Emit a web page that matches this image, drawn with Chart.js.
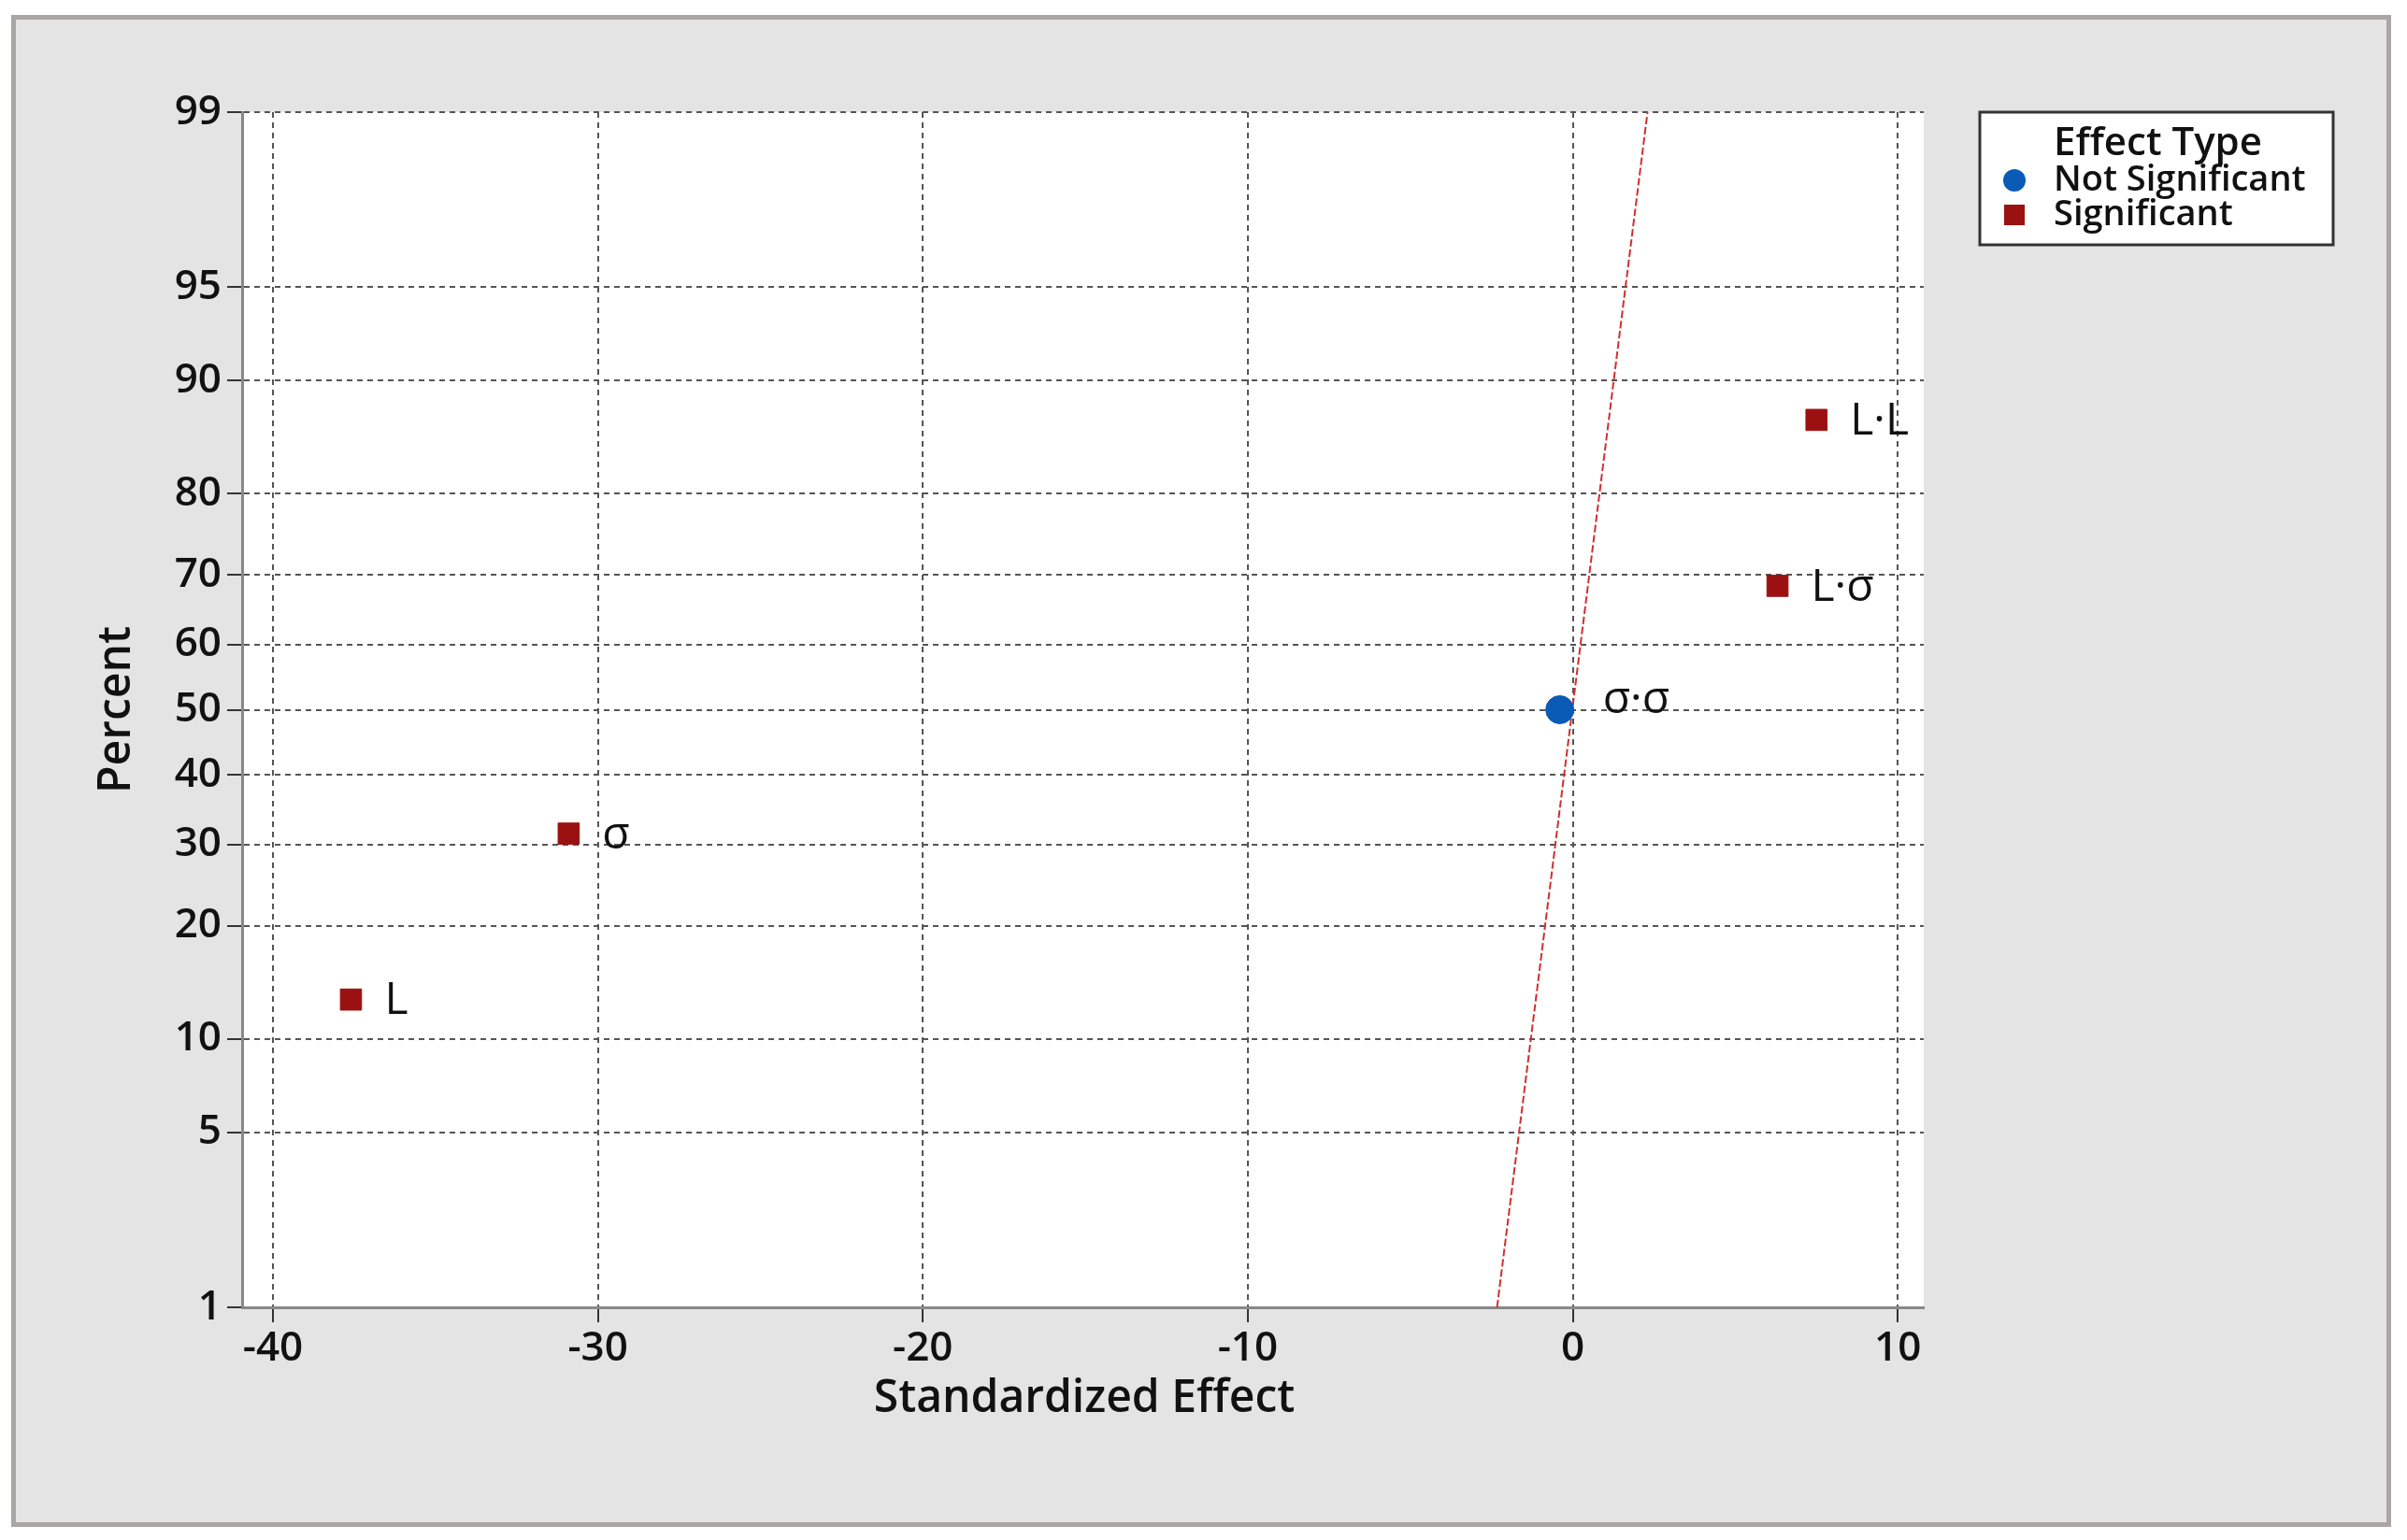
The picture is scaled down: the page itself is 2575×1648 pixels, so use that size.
<!DOCTYPE html>
<html>
<head>
<meta charset="utf-8">
<script src="https://cdn.jsdelivr.net/npm/chart.js@4"></script>
<style>
  html, body { margin: 0; padding: 0; background: #fff; }
  #wrap { position: absolute; left: 12px; top: 16px; width: 2546px; height: 1618px; background: #e4e4e4; border: 5px solid #a9a6a4; box-sizing: border-box; }
  canvas { position: absolute; left: 0; top: 0; }
</style>
</head>
<body>
<div id="wrap"></div>
<canvas id="chart" width="2575" height="1648"></canvas>
<script>
// effect terms (percent from the probability plot)
const terms = ['L', 'σ', 'σ·σ', 'L·σ', 'L·L'];
const effects = [-37.6, -30.9, -0.4, 6.3, 7.5];
const percents = [12.96, 31.48, 50.0, 68.52, 87.04];
const significant = [true, true, false, true, true];
const fitLineX = [-2.33, 2.30];
const fitLineP = [1, 99];
const percentTicks = [1, 5, 10, 20, 30, 40, 50, 60, 70, 80, 90, 95, 99];
const xTicks = [-40, -30, -20, -10, 0, 10];

// inverse normal cdf (Acklam), used for the probability axis
function probit(p) {
  const a = [-39.69683028665376, 220.9460984245205, -275.9285104469687, 138.3577518672690, -30.66479806614716, 2.506628277459239];
  const b = [-54.47609879822406, 161.5858368580409, -155.6989798598866, 66.80131188771972, -13.28068155211589];
  const c = [-0.007784894002430293, -0.3223964580411365, -2.400758277161838, -2.549732539343734, 4.374664141464968, 2.938163982698783];
  const d = [0.007784695709041462, 0.3224671290700398, 2.445134137142996, 3.754408661907416];
  const pl = 0.02425;
  let q, r;
  if (p < pl) {
    q = Math.sqrt(-2 * Math.log(p));
    return (((((c[0]*q+c[1])*q+c[2])*q+c[3])*q+c[4])*q+c[5]) / ((((d[0]*q+d[1])*q+d[2])*q+d[3])*q+1);
  }
  if (p > 1 - pl) {
    q = Math.sqrt(-2 * Math.log(1 - p));
    return -(((((c[0]*q+c[1])*q+c[2])*q+c[3])*q+c[4])*q+c[5]) / ((((d[0]*q+d[1])*q+d[2])*q+d[3])*q+1);
  }
  q = p - 0.5; r = q * q;
  return (((((a[0]*r+a[1])*r+a[2])*r+a[3])*r+a[4])*r+a[5])*q / (((((b[0]*r+b[1])*r+b[2])*r+b[3])*r+b[4])*r+1);
}
const z = pct => probit(pct / 100);

const font = '"Open Sans", "Noto Sans", sans-serif';
const red = '#9b1111';
const blue = '#0a5bb5';

const sigPts = [], nsPts = [];
terms.forEach((t, i) => {
  const pt = { x: effects[i], y: z(percents[i]), label: t };
  (significant[i] ? sigPts : nsPts).push(pt);
});

const overlay = {
  id: 'overlay',
  beforeDraw(chart) {
    const { ctx, chartArea: a } = chart;
    ctx.save();
    ctx.fillStyle = '#fff';
    ctx.fillRect(a.left, a.top, a.right - a.left, a.bottom - a.top);
    ctx.restore();
  },
  afterDatasetsDraw(chart) {
    const { ctx, chartArea: a } = chart;
    const xs = chart.scales.x, ys = chart.scales.y;
    ctx.save();
    // point labels
    ctx.fillStyle = '#111';
    ctx.font = '48px ' + font;
    ctx.textBaseline = 'middle';
    [...sigPts, ...nsPts].forEach(p => {
      const off = p.label === 'σ·σ' ? 46 : 36;
      const dy = p.label === 'σ·σ' ? -10 : 2;
      ctx.fillText(p.label, xs.getPixelForValue(p.x) + off, ys.getPixelForValue(p.y) + dy);
    });
    // axis titles
    ctx.font = '600 48px ' + font;
    ctx.textAlign = 'center';
    ctx.fillText('Standardized Effect', 1160, 1497);
    ctx.translate(125, (a.top + a.bottom) / 2);
    ctx.rotate(-Math.PI / 2);
    ctx.fillText('Percent', 0, 0);
    ctx.restore();

    // legend
    ctx.save();
    const lx = 2118, ly = 120, lw = 378, lh = 142;
    ctx.fillStyle = '#fff';
    ctx.fillRect(lx, ly, lw, lh);
    ctx.strokeStyle = '#333';
    ctx.lineWidth = 3;
    ctx.strokeRect(lx, ly, lw, lh);
    ctx.fillStyle = '#111';
    ctx.textBaseline = 'middle';
    ctx.font = '600 42px ' + font;
    ctx.fillText('Effect Type', 2197, ly + 34);
    ctx.font = '600 38px ' + font;
    ctx.fillText('Not Significant', 2197, ly + 73);
    ctx.fillText('Significant', 2197, ly + 110);
    ctx.fillStyle = blue;
    ctx.beginPath(); ctx.arc(2155, ly + 73, 12, 0, Math.PI * 2); ctx.fill();
    ctx.fillStyle = red;
    ctx.fillRect(2144, ly + 99, 22, 22);
    ctx.restore();
  }
};

new Chart(document.getElementById('chart'), {
  type: 'scatter',
  data: {
    datasets: [
      {
        label: 'fit',
        type: 'line',
        data: fitLineX.map((x, i) => ({ x, y: z(fitLineP[i]) })),
        borderColor: '#d03030',
        borderWidth: 2,
        borderDash: [8, 3],
        pointRadius: 0,
        order: 3
      },
      {
        label: 'Significant',
        data: sigPts,
        pointStyle: 'rect',
        pointRadius: 16,
        backgroundColor: red,
        borderColor: red,
        order: 1
      },
      {
        label: 'Not Significant',
        data: nsPts,
        pointStyle: 'circle',
        pointRadius: 15,
        backgroundColor: blue,
        borderColor: blue,
        order: 1
      }
    ]
  },
  options: {
    responsive: false,
    animation: false,
    layout: { padding: { left: 0, top: 120, right: 517, bottom: 0 } },
    plugins: { legend: { display: false }, tooltip: { enabled: false } },
    scales: {
      x: {
        type: 'linear',
        min: -40.95,
        max: 10.8,
        afterBuildTicks: s => { s.ticks = xTicks.map(v => ({ value: v })); },
        afterFit: s => { s.height = 249; },
        ticks: { font: { size: 44, weight: '600', family: font }, color: '#111', padding: 2 },
        grid: { color: '#555', lineWidth: 2, tickLength: 16, tickColor: '#333' },
        border: { display: true, color: '#888', width: 3, dash: [6, 5] }
      },
      y: {
        type: 'linear',
        min: z(1),
        max: z(99),
        afterBuildTicks: s => { s.ticks = percentTicks.map(p => ({ value: z(p) })); },
        afterFit: s => { s.width = 259; },
        ticks: {
          font: { size: 44, weight: '600', family: font },
          color: '#111',
          padding: 6,
          callback: (v, i) => percentTicks[i]
        },
        grid: { color: '#555', lineWidth: 2, tickLength: 16, tickColor: '#333' },
        border: { display: true, color: '#888', width: 3, dash: [6, 5] }
      }
    }
  },
  plugins: [overlay]
});
</script>
</body>
</html>
